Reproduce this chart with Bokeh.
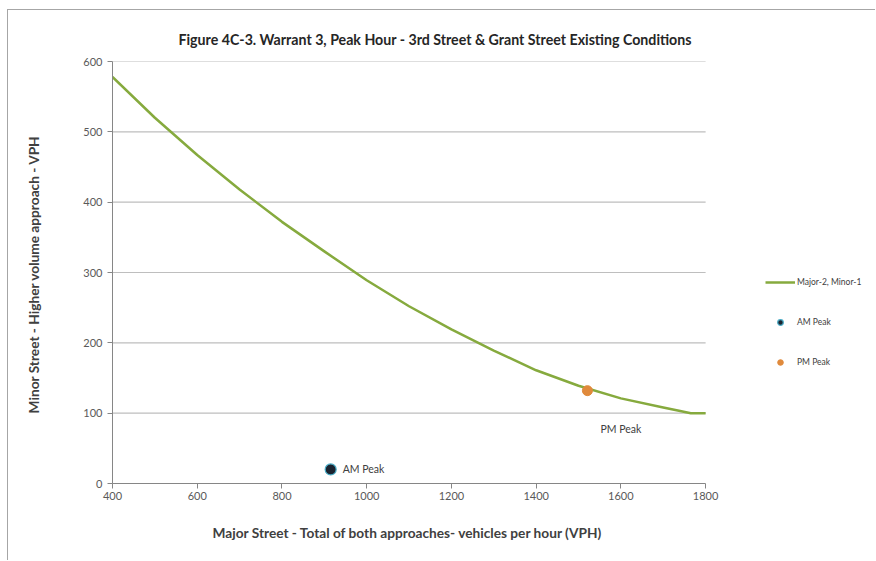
from bokeh.plotting import figure
from bokeh.models import Legend, LegendItem, FixedTicker, Range1d, ColumnDataSource, Title
from bokeh.core.properties import value
from bokeh.embed import file_html
from bokeh.resources import INLINE

# ---- data ----
curve_x = [400, 500, 600, 700, 800, 900, 1000, 1100, 1200, 1300, 1400, 1500, 1600, 1700, 1740, 1765, 1800]
curve_y = [578, 520, 467, 418, 372, 330, 289, 252, 219, 189, 161, 139, 121, 108, 103, 100, 100]
curve_name = "Major-2, Minor-1"

am_x = [915]
am_y = [20]
pm_x = [1521]
pm_y = [132]
am_name = "AM Peak"
pm_name = "PM Peak"

x_ticks = [400, 600, 800, 1000, 1200, 1400, 1600, 1800]
y_ticks = [0, 100, 200, 300, 400, 500, 600]

title_text = "Figure 4C-3. Warrant 3, Peak Hour - 3rd Street & Grant Street Existing Conditions"
x_label = "Major Street - Total of both approaches- vehicles per hour (VPH)"
y_label = "Minor Street  - Higher volume approach - VPH"

FONT = "Lato"

# frame extends to the right edge so the legend (right of the axis end) is not clipped;
# the x axis itself is bounded to 400..1800
p = figure(width=868, height=551, output_backend="svg", toolbar_location=None,
           x_range=Range1d(400, 2201), y_range=Range1d(0, 600),
           min_border_left=104, min_border_right=1, min_border_top=51, min_border_bottom=78)
p.outline_line_color = None
p.background_fill_color = "white"
p.border_fill_color = "white"
p.styles = {"margin-left": "7px", "margin-top": "9px",
            "border-left": "1px solid #a6a6a6", "border-top": "1px solid #a6a6a6"}

# title
p.title.text = title_text
p.title.align = "left"
p.title.offset = 66
p.title.text_font = FONT
p.title.text_font_style = "bold"
p.title.text_font_size = "14.2px"
p.title.text_color = "#262626"
p.title.standoff = 28

# axes
for ax in (p.xaxis[0], p.yaxis[0]):
    ax.axis_line_color = "#868686"
    ax.major_tick_line_color = "#868686"
    ax.minor_tick_line_color = None
    ax.major_tick_in = 0
    ax.major_tick_out = 5
    ax.major_label_text_font = FONT
    ax.major_label_text_font_size = "11px"
    ax.major_label_text_color = "#595959"
    ax.axis_label_text_font = FONT
    ax.axis_label_text_font_style = "bold"
    ax.axis_label_text_font_size = "13.7px"
    ax.axis_label_text_color = "#404040"

p.xaxis.bounds = (x_ticks[0], x_ticks[-1])
p.xaxis.ticker = FixedTicker(ticks=x_ticks)
p.yaxis.ticker = FixedTicker(ticks=y_ticks)
p.yaxis.axis_label = y_label
p.xaxis.major_label_standoff = 3
p.yaxis.major_label_standoff = 5
p.yaxis.axis_label_standoff = 38

# x-axis title, centred under the bounded axis (not under the extended frame)
p.add_layout(Title(text=x_label, align="left", offset=100, text_font=FONT, text_font_style="bold",
                   text_font_size="13.7px", text_color="#404040", standoff=38), "below")

# horizontal gridlines limited to the x-axis extent
p.xgrid.grid_line_color = None
p.ygrid.grid_line_color = None
grid_y = [t for t in y_ticks if t != y_ticks[0]]
p.segment(x0=[x_ticks[0]] * len(grid_y), x1=[x_ticks[-1]] * len(grid_y), y0=grid_y, y1=grid_y,
          line_color="#bebebe", line_width=1.2)

# glyphs
line_r = p.line(curve_x, curve_y, line_color="#86aa3e", line_width=2.5, line_join="round")
am_src = ColumnDataSource(dict(x=am_x, y=am_y, t=[am_name]))
pm_src = ColumnDataSource(dict(x=pm_x, y=pm_y, t=[pm_name]))
am_r = p.scatter("x", "y", source=am_src, size=11, fill_color="#1b2430", line_color="#4bacc6", line_width=1.2)
pm_r = p.scatter("x", "y", source=pm_src, size=10, fill_color="#e08a3c", line_color="#e08a3c")

p.text("x", "y", text="t", source=am_src, x_offset=12, text_baseline="middle", text_align="left",
       text_font=value(FONT), text_font_size="10.5px", text_color="#404040")
p.text("x", "y", text="t", source=pm_src, x_offset=13, y_offset=38, text_baseline="middle", text_align="left",
       text_font=value(FONT), text_font_size="10.5px", text_color="#404040")

# legend
legend = Legend(items=[LegendItem(label=curve_name, renderers=[line_r]),
                       LegendItem(label=am_name, renderers=[am_r]),
                       LegendItem(label=pm_name, renderers=[pm_r])],
                location=(653, 114), orientation="vertical",
                padding=0, margin=0, spacing=26, glyph_width=30, glyph_height=14,
                label_height=14, label_standoff=2,
                label_text_font=FONT, label_text_font_size="8.5px", label_text_color="#404040",
                background_fill_alpha=0, border_line_color=None)
p.add_layout(legend, "center")

open("out.html", "w").write(file_html(p, INLINE))
